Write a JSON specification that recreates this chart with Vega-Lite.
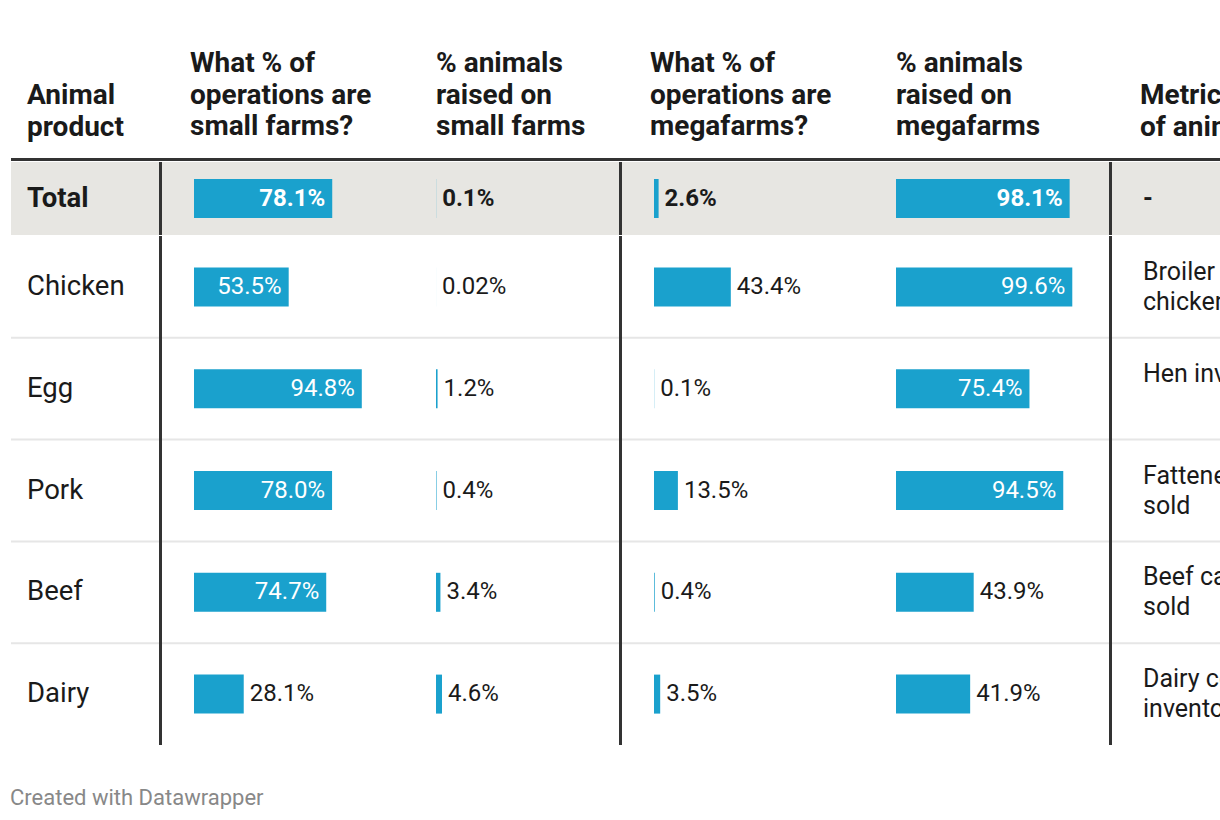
{
  "$schema": "https://vega.github.io/schema/vega-lite/v6.json",
  "padding": {"left": 10, "top": 0, "right": 0, "bottom": 0},
  "background": "white",
  "spacing": 0,
  "title": {"text": "Created with Datawrapper", "orient": "bottom", "anchor": "start", "offset": 43, "fontSize": 22, "fontWeight": "normal", "color": "#888888", "font": "Roboto", "baseline": "top"},
  "config": {"view": {"stroke": null}, "font": "Roboto", "concat": {"spacing": 0}},
  "datasets": {
    "headers": [
      {"col": "product", "title": "Animal\nproduct"},
      {"col": "small_ops", "title": "What % of\noperations are\nsmall farms?"},
      {"col": "small_animals", "title": "% animals\nraised on\nsmall farms"},
      {"col": "mega_ops", "title": "What % of\noperations are\nmegafarms?"},
      {"col": "mega_animals", "title": "% animals\nraised on\nmegafarms"},
      {"col": "metric", "title": "Metric\nof animals"}
    ],
    "rows": [
      {"product": "Total", "metric": "-"},
      {"product": "Chicken", "metric": "Broiler\nchickens sold"},
      {"product": "Egg", "metric": "Hen inventory\n"},
      {"product": "Pork", "metric": "Fattened hogs\nsold"},
      {"product": "Beef", "metric": "Beef cattle\nsold"},
      {"product": "Dairy", "metric": "Dairy cows\ninventory"}
    ],
    "cells": [
      {"product": "Total", "col": "small_ops", "value": 78.1, "label": "78.1%"},
      {"product": "Total", "col": "small_animals", "value": 0.1, "label": "0.1%"},
      {"product": "Total", "col": "mega_ops", "value": 2.6, "label": "2.6%"},
      {"product": "Total", "col": "mega_animals", "value": 98.1, "label": "98.1%"},
      {"product": "Chicken", "col": "small_ops", "value": 53.5, "label": "53.5%"},
      {"product": "Chicken", "col": "small_animals", "value": 0.02, "label": "0.02%"},
      {"product": "Chicken", "col": "mega_ops", "value": 43.4, "label": "43.4%"},
      {"product": "Chicken", "col": "mega_animals", "value": 99.6, "label": "99.6%"},
      {"product": "Egg", "col": "small_ops", "value": 94.8, "label": "94.8%"},
      {"product": "Egg", "col": "small_animals", "value": 1.2, "label": "1.2%"},
      {"product": "Egg", "col": "mega_ops", "value": 0.1, "label": "0.1%"},
      {"product": "Egg", "col": "mega_animals", "value": 75.4, "label": "75.4%"},
      {"product": "Pork", "col": "small_ops", "value": 78.0, "label": "78.0%"},
      {"product": "Pork", "col": "small_animals", "value": 0.4, "label": "0.4%"},
      {"product": "Pork", "col": "mega_ops", "value": 13.5, "label": "13.5%"},
      {"product": "Pork", "col": "mega_animals", "value": 94.5, "label": "94.5%"},
      {"product": "Beef", "col": "small_ops", "value": 74.7, "label": "74.7%"},
      {"product": "Beef", "col": "small_animals", "value": 3.4, "label": "3.4%"},
      {"product": "Beef", "col": "mega_ops", "value": 0.4, "label": "0.4%"},
      {"product": "Beef", "col": "mega_animals", "value": 43.9, "label": "43.9%"},
      {"product": "Dairy", "col": "small_ops", "value": 28.1, "label": "28.1%"},
      {"product": "Dairy", "col": "small_animals", "value": 4.6, "label": "4.6%"},
      {"product": "Dairy", "col": "mega_ops", "value": 3.5, "label": "3.5%"},
      {"product": "Dairy", "col": "mega_animals", "value": 41.9, "label": "41.9%"}
    ]
  },
  "vconcat": [
    {
      "hconcat": [
        {"width": 151, "height": 157, "data": {"name": "headers"}, "transform": [{"filter": "datum.col === 'product'"}],
         "mark": {"type": "text", "align": "left", "baseline": "alphabetic", "y": "height", "dy": -53, "fontSize": 28, "fontWeight": "bold", "lineHeight": 31.5, "lineBreak": "\n", "color": "#1a1a1a"},
         "encoding": {"x": {"datum": 0, "type": "quantitative", "axis": null, "scale": {"domain": [0, 1], "range": [16, 151]}}, "text": {"field": "title"}}},
        {"width": 259, "height": 157, "data": {"name": "headers"}, "transform": [{"filter": "datum.col === 'small_ops'"}],
         "mark": {"type": "text", "align": "left", "baseline": "alphabetic", "y": "height", "dy": -85, "fontSize": 28, "fontWeight": "bold", "lineHeight": 31.5, "lineBreak": "\n", "color": "#1a1a1a"},
         "encoding": {"x": {"datum": 0, "type": "quantitative", "axis": null, "scale": {"domain": [0, 1], "range": [28, 259]}}, "text": {"field": "title"}}},
        {"width": 201, "height": 157, "data": {"name": "headers"}, "transform": [{"filter": "datum.col === 'small_animals'"}],
         "mark": {"type": "text", "align": "left", "baseline": "alphabetic", "y": "height", "dy": -85, "fontSize": 28, "fontWeight": "bold", "lineHeight": 31.5, "lineBreak": "\n", "color": "#1a1a1a"},
         "encoding": {"x": {"datum": 0, "type": "quantitative", "axis": null, "scale": {"domain": [0, 1], "range": [15, 201]}}, "text": {"field": "title"}}},
        {"width": 259, "height": 157, "data": {"name": "headers"}, "transform": [{"filter": "datum.col === 'mega_ops'"}],
         "mark": {"type": "text", "align": "left", "baseline": "alphabetic", "y": "height", "dy": -85, "fontSize": 28, "fontWeight": "bold", "lineHeight": 31.5, "lineBreak": "\n", "color": "#1a1a1a"},
         "encoding": {"x": {"datum": 0, "type": "quantitative", "axis": null, "scale": {"domain": [0, 1], "range": [28, 259]}}, "text": {"field": "title"}}},
        {"width": 231, "height": 157, "data": {"name": "headers"}, "transform": [{"filter": "datum.col === 'mega_animals'"}],
         "mark": {"type": "text", "align": "left", "baseline": "alphabetic", "y": "height", "dy": -85, "fontSize": 28, "fontWeight": "bold", "lineHeight": 31.5, "lineBreak": "\n", "color": "#1a1a1a"},
         "encoding": {"x": {"datum": 0, "type": "quantitative", "axis": null, "scale": {"domain": [0, 1], "range": [15, 231]}}, "text": {"field": "title"}}},
        {"width": 109, "height": 157, "data": {"name": "headers"}, "transform": [{"filter": "datum.col === 'metric'"}],
         "mark": {"type": "text", "align": "left", "baseline": "alphabetic", "y": "height", "dy": -53, "fontSize": 28, "fontWeight": "bold", "lineHeight": 31.5, "lineBreak": "\n", "color": "#1a1a1a", "clip": true},
         "encoding": {"x": {"datum": 0, "type": "quantitative", "axis": null, "scale": {"domain": [0, 1], "range": [28, 109]}}, "text": {"field": "title"}}}
      ],
      "spacing": 0, "bounds": "flush"
    },
    {"width": 1210, "height": 3, "view": {"fill": "#333333", "stroke": null}, "data": {"values": [{}]}, "mark": {"type": "rule", "strokeOpacity": 0, "strokeWidth": 0}, "encoding": {}},
    {
      "hconcat": [
        {"width": 148, "height": 73, "view": {"fill": "#e7e6e2", "stroke": null}, "data": {"name": "rows"}, "transform": [{"filter": "datum.product === 'Total'"}],
         "mark": {"type": "text", "align": "left", "baseline": "middle", "fontSize": 27.5, "fontWeight": "bold", "color": "#1a1a1a"},
         "encoding": {"x": {"datum": 0, "type": "quantitative", "axis": null, "scale": {"domain": [0, 1], "range": [16, 148]}},
                      "y": {"field": "product", "type": "nominal", "axis": null, "scale": {"domain": ["Total"], "paddingInner": 0, "paddingOuter": 0}},
                      "text": {"field": "product"}}},
        {"width": 3, "height": 73, "view": {"fill": "#333333", "stroke": null}, "data": {"values": [{}]}, "mark": {"type": "rule", "strokeOpacity": 0, "strokeWidth": 0}, "encoding": {}},
        {"width": 259, "height": 73, "view": {"fill": "#e7e6e2", "stroke": null}, "data": {"name": "cells"}, "transform": [{"filter": "datum.product === 'Total' && datum.col === 'small_ops'"}],
         "encoding": {"y": {"field": "product", "type": "nominal", "axis": null, "scale": {"domain": ["Total"], "paddingInner": 0, "paddingOuter": 0}},
                      "x": {"field": "value", "type": "quantitative", "axis": null, "scale": {"domain": [0, 100], "range": [32, 209]}}},
         "layer": [
           {"mark": {"type": "bar", "color": "#1aa1cd", "size": 39}},
           {"transform": [{"filter": "datum.value >= 50"}], "mark": {"type": "text", "align": "right", "baseline": "middle", "dx": -7, "fontSize": 24, "fontWeight": "bold", "color": "white"}, "encoding": {"text": {"field": "label"}}},
           {"transform": [{"filter": "datum.value < 50"}], "mark": {"type": "text", "align": "left", "baseline": "middle", "dx": 6, "fontSize": 24, "fontWeight": "bold", "color": "#1a1a1a"}, "encoding": {"text": {"field": "label"}}}
         ]},
        {"width": 198, "height": 73, "view": {"fill": "#e7e6e2", "stroke": null}, "data": {"name": "cells"}, "transform": [{"filter": "datum.product === 'Total' && datum.col === 'small_animals'"}],
         "encoding": {"y": {"field": "product", "type": "nominal", "axis": null, "scale": {"domain": ["Total"], "paddingInner": 0, "paddingOuter": 0}},
                      "x": {"field": "value", "type": "quantitative", "axis": null, "scale": {"domain": [0, 100], "range": [15, 145]}}},
         "layer": [
           {"mark": {"type": "bar", "color": "#1aa1cd", "size": 39}},
           {"transform": [{"filter": "datum.value >= 50"}], "mark": {"type": "text", "align": "right", "baseline": "middle", "dx": -7, "fontSize": 24, "fontWeight": "bold", "color": "white"}, "encoding": {"text": {"field": "label"}}},
           {"transform": [{"filter": "datum.value < 50"}], "mark": {"type": "text", "align": "left", "baseline": "middle", "dx": 6, "fontSize": 24, "fontWeight": "bold", "color": "#1a1a1a"}, "encoding": {"text": {"field": "label"}}}
         ]},
        {"width": 3, "height": 73, "view": {"fill": "#333333", "stroke": null}, "data": {"values": [{}]}, "mark": {"type": "rule", "strokeOpacity": 0, "strokeWidth": 0}, "encoding": {}},
        {"width": 259, "height": 73, "view": {"fill": "#e7e6e2", "stroke": null}, "data": {"name": "cells"}, "transform": [{"filter": "datum.product === 'Total' && datum.col === 'mega_ops'"}],
         "encoding": {"y": {"field": "product", "type": "nominal", "axis": null, "scale": {"domain": ["Total"], "paddingInner": 0, "paddingOuter": 0}},
                      "x": {"field": "value", "type": "quantitative", "axis": null, "scale": {"domain": [0, 100], "range": [32, 209]}}},
         "layer": [
           {"mark": {"type": "bar", "color": "#1aa1cd", "size": 39}},
           {"transform": [{"filter": "datum.value >= 50"}], "mark": {"type": "text", "align": "right", "baseline": "middle", "dx": -7, "fontSize": 24, "fontWeight": "bold", "color": "white"}, "encoding": {"text": {"field": "label"}}},
           {"transform": [{"filter": "datum.value < 50"}], "mark": {"type": "text", "align": "left", "baseline": "middle", "dx": 6, "fontSize": 24, "fontWeight": "bold", "color": "#1a1a1a"}, "encoding": {"text": {"field": "label"}}}
         ]},
        {"width": 228, "height": 73, "view": {"fill": "#e7e6e2", "stroke": null}, "data": {"name": "cells"}, "transform": [{"filter": "datum.product === 'Total' && datum.col === 'mega_animals'"}],
         "encoding": {"y": {"field": "product", "type": "nominal", "axis": null, "scale": {"domain": ["Total"], "paddingInner": 0, "paddingOuter": 0}},
                      "x": {"field": "value", "type": "quantitative", "axis": null, "scale": {"domain": [0, 100], "range": [15, 192]}}},
         "layer": [
           {"mark": {"type": "bar", "color": "#1aa1cd", "size": 39}},
           {"transform": [{"filter": "datum.value >= 50"}], "mark": {"type": "text", "align": "right", "baseline": "middle", "dx": -7, "fontSize": 24, "fontWeight": "bold", "color": "white"}, "encoding": {"text": {"field": "label"}}},
           {"transform": [{"filter": "datum.value < 50"}], "mark": {"type": "text", "align": "left", "baseline": "middle", "dx": 6, "fontSize": 24, "fontWeight": "bold", "color": "#1a1a1a"}, "encoding": {"text": {"field": "label"}}}
         ]},
        {"width": 3, "height": 73, "view": {"fill": "#333333", "stroke": null}, "data": {"values": [{}]}, "mark": {"type": "rule", "strokeOpacity": 0, "strokeWidth": 0}, "encoding": {}},
        {"width": 109, "height": 73, "view": {"fill": "#e7e6e2", "stroke": null}, "data": {"name": "rows"}, "transform": [{"filter": "datum.product === 'Total'"}],
         "mark": {"type": "text", "align": "left", "baseline": "middle", "fontSize": 25, "fontWeight": "bold", "color": "#1a1a1a", "clip": true},
         "encoding": {"x": {"datum": 0, "type": "quantitative", "axis": null, "scale": {"domain": [0, 1], "range": [31, 109]}},
                      "y": {"field": "product", "type": "nominal", "axis": null, "scale": {"domain": ["Total"], "paddingInner": 0, "paddingOuter": 0}},
                      "text": {"field": "metric"}}}
      ],
      "spacing": 0, "bounds": "flush"
    },
    {
      "hconcat": [
        {"width": 148, "height": 509, "data": {"name": "rows"}, "transform": [{"filter": "datum.product !== 'Total'"}],
         "encoding": {"y": {"field": "product", "type": "nominal", "axis": null, "scale": {"domain": ["Chicken", "Egg", "Pork", "Beef", "Dairy"], "paddingInner": 0, "paddingOuter": 0}}},
         "layer": [
           {"transform": [{"filter": "datum.product !== 'Dairy'"}], "mark": {"type": "rule", "color": "#e6e6e6", "strokeWidth": 2}, "encoding": {"y": {"field": "product", "type": "nominal", "bandPosition": 1}}},
           {"mark": {"type": "text", "align": "left", "baseline": "middle", "fontSize": 27.5, "color": "#1a1a1a"},
            "encoding": {"x": {"datum": 0, "type": "quantitative", "axis": null, "scale": {"domain": [0, 1], "range": [16, 148]}}, "text": {"field": "product"}}}
         ]},
        {"width": 3, "height": 509, "view": {"fill": "#333333", "stroke": null}, "data": {"values": [{}]}, "mark": {"type": "rule", "strokeOpacity": 0, "strokeWidth": 0}, "encoding": {}},
        {"width": 259, "height": 509, "data": {"name": "cells"}, "transform": [{"filter": "datum.product !== 'Total' && datum.col === 'small_ops'"}],
         "encoding": {"y": {"field": "product", "type": "nominal", "axis": null, "scale": {"domain": ["Chicken", "Egg", "Pork", "Beef", "Dairy"], "paddingInner": 0, "paddingOuter": 0}}},
         "layer": [
           {"transform": [{"filter": "datum.product !== 'Dairy'"}], "mark": {"type": "rule", "color": "#e6e6e6", "strokeWidth": 2}, "encoding": {"y": {"field": "product", "type": "nominal", "bandPosition": 1}}},
           {"mark": {"type": "bar", "color": "#1aa1cd", "size": 39}, "encoding": {"x": {"field": "value", "type": "quantitative", "axis": null, "scale": {"domain": [0, 100], "range": [32, 209]}}}},
           {"transform": [{"filter": "datum.value >= 50"}], "mark": {"type": "text", "align": "right", "baseline": "middle", "dx": -7, "fontSize": 24, "color": "white"}, "encoding": {"x": {"field": "value", "type": "quantitative"}, "text": {"field": "label"}}},
           {"transform": [{"filter": "datum.value < 50"}], "mark": {"type": "text", "align": "left", "baseline": "middle", "dx": 6, "fontSize": 24, "color": "#1a1a1a"}, "encoding": {"x": {"field": "value", "type": "quantitative"}, "text": {"field": "label"}}}
         ]},
        {"width": 198, "height": 509, "data": {"name": "cells"}, "transform": [{"filter": "datum.product !== 'Total' && datum.col === 'small_animals'"}],
         "encoding": {"y": {"field": "product", "type": "nominal", "axis": null, "scale": {"domain": ["Chicken", "Egg", "Pork", "Beef", "Dairy"], "paddingInner": 0, "paddingOuter": 0}}},
         "layer": [
           {"transform": [{"filter": "datum.product !== 'Dairy'"}], "mark": {"type": "rule", "color": "#e6e6e6", "strokeWidth": 2}, "encoding": {"y": {"field": "product", "type": "nominal", "bandPosition": 1}}},
           {"mark": {"type": "bar", "color": "#1aa1cd", "size": 39}, "encoding": {"x": {"field": "value", "type": "quantitative", "axis": null, "scale": {"domain": [0, 100], "range": [15, 145]}}}},
           {"transform": [{"filter": "datum.value >= 50"}], "mark": {"type": "text", "align": "right", "baseline": "middle", "dx": -7, "fontSize": 24, "color": "white"}, "encoding": {"x": {"field": "value", "type": "quantitative"}, "text": {"field": "label"}}},
           {"transform": [{"filter": "datum.value < 50"}], "mark": {"type": "text", "align": "left", "baseline": "middle", "dx": 6, "fontSize": 24, "color": "#1a1a1a"}, "encoding": {"x": {"field": "value", "type": "quantitative"}, "text": {"field": "label"}}}
         ]},
        {"width": 3, "height": 509, "view": {"fill": "#333333", "stroke": null}, "data": {"values": [{}]}, "mark": {"type": "rule", "strokeOpacity": 0, "strokeWidth": 0}, "encoding": {}},
        {"width": 259, "height": 509, "data": {"name": "cells"}, "transform": [{"filter": "datum.product !== 'Total' && datum.col === 'mega_ops'"}],
         "encoding": {"y": {"field": "product", "type": "nominal", "axis": null, "scale": {"domain": ["Chicken", "Egg", "Pork", "Beef", "Dairy"], "paddingInner": 0, "paddingOuter": 0}}},
         "layer": [
           {"transform": [{"filter": "datum.product !== 'Dairy'"}], "mark": {"type": "rule", "color": "#e6e6e6", "strokeWidth": 2}, "encoding": {"y": {"field": "product", "type": "nominal", "bandPosition": 1}}},
           {"mark": {"type": "bar", "color": "#1aa1cd", "size": 39}, "encoding": {"x": {"field": "value", "type": "quantitative", "axis": null, "scale": {"domain": [0, 100], "range": [32, 209]}}}},
           {"transform": [{"filter": "datum.value >= 50"}], "mark": {"type": "text", "align": "right", "baseline": "middle", "dx": -7, "fontSize": 24, "color": "white"}, "encoding": {"x": {"field": "value", "type": "quantitative"}, "text": {"field": "label"}}},
           {"transform": [{"filter": "datum.value < 50"}], "mark": {"type": "text", "align": "left", "baseline": "middle", "dx": 6, "fontSize": 24, "color": "#1a1a1a"}, "encoding": {"x": {"field": "value", "type": "quantitative"}, "text": {"field": "label"}}}
         ]},
        {"width": 228, "height": 509, "data": {"name": "cells"}, "transform": [{"filter": "datum.product !== 'Total' && datum.col === 'mega_animals'"}],
         "encoding": {"y": {"field": "product", "type": "nominal", "axis": null, "scale": {"domain": ["Chicken", "Egg", "Pork", "Beef", "Dairy"], "paddingInner": 0, "paddingOuter": 0}}},
         "layer": [
           {"transform": [{"filter": "datum.product !== 'Dairy'"}], "mark": {"type": "rule", "color": "#e6e6e6", "strokeWidth": 2}, "encoding": {"y": {"field": "product", "type": "nominal", "bandPosition": 1}}},
           {"mark": {"type": "bar", "color": "#1aa1cd", "size": 39}, "encoding": {"x": {"field": "value", "type": "quantitative", "axis": null, "scale": {"domain": [0, 100], "range": [15, 192]}}}},
           {"transform": [{"filter": "datum.value >= 50"}], "mark": {"type": "text", "align": "right", "baseline": "middle", "dx": -7, "fontSize": 24, "color": "white"}, "encoding": {"x": {"field": "value", "type": "quantitative"}, "text": {"field": "label"}}},
           {"transform": [{"filter": "datum.value < 50"}], "mark": {"type": "text", "align": "left", "baseline": "middle", "dx": 6, "fontSize": 24, "color": "#1a1a1a"}, "encoding": {"x": {"field": "value", "type": "quantitative"}, "text": {"field": "label"}}}
         ]},
        {"width": 3, "height": 509, "view": {"fill": "#333333", "stroke": null}, "data": {"values": [{}]}, "mark": {"type": "rule", "strokeOpacity": 0, "strokeWidth": 0}, "encoding": {}},
        {"width": 109, "height": 509, "data": {"name": "rows"}, "transform": [{"filter": "datum.product !== 'Total'"}],
         "encoding": {"y": {"field": "product", "type": "nominal", "axis": null, "scale": {"domain": ["Chicken", "Egg", "Pork", "Beef", "Dairy"], "paddingInner": 0, "paddingOuter": 0}}},
         "layer": [
           {"transform": [{"filter": "datum.product !== 'Dairy'"}], "mark": {"type": "rule", "color": "#e6e6e6", "strokeWidth": 2}, "encoding": {"y": {"field": "product", "type": "nominal", "bandPosition": 1}}},
           {"mark": {"type": "text", "align": "left", "baseline": "middle", "dy": -15, "fontSize": 25, "lineHeight": 30, "lineBreak": "\n", "color": "#1a1a1a", "clip": true},
            "encoding": {"x": {"datum": 0, "type": "quantitative", "axis": null, "scale": {"domain": [0, 1], "range": [31, 109]}}, "text": {"field": "metric"}}}
         ]}
      ],
      "spacing": 0, "bounds": "flush"
    }
  ]
}
